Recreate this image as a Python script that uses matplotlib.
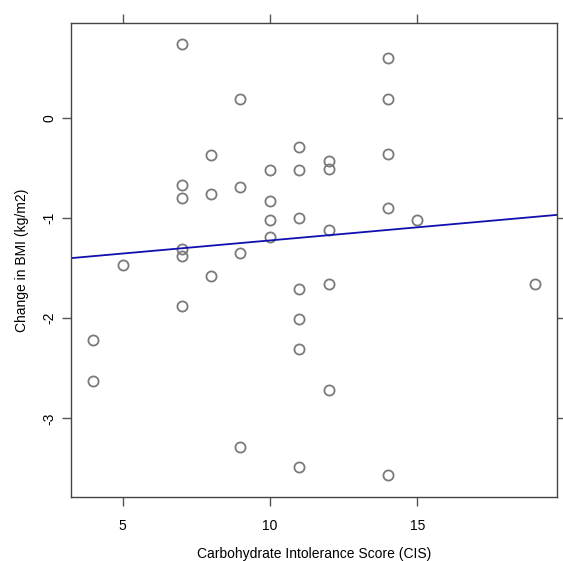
import matplotlib
matplotlib.use("Agg")
import matplotlib.pyplot as plt
import numpy as np

plt.rcParams['font.family'] = ['Liberation Sans', 'DejaVu Sans']

cis = [7, 14, 9, 14, 11, 8, 14, 12, 12, 10, 11, 7, 9, 7, 8, 10, 14, 10, 11, 15,
       12, 10, 7, 7, 9, 5, 8, 11, 12, 19, 7, 11, 4, 11, 4, 12, 9, 11, 14]
bmi_change = [0.74, 0.60, 0.19, 0.19, -0.29, -0.37, -0.36, -0.43, -0.51, -0.52,
              -0.52, -0.67, -0.69, -0.80, -0.76, -0.83, -0.90, -1.02, -1.00, -1.02,
              -1.12, -1.19, -1.31, -1.38, -1.35, -1.47, -1.58, -1.71, -1.66, -1.66,
              -1.88, -2.01, -2.22, -2.31, -2.63, -2.72, -3.29, -3.49, -3.57]

fit_intercept = -1.485
fit_slope = 0.0262

xticks = [5, 10, 15]
yticks = [-3, -2, -1, 0]

fig = plt.figure(figsize=(5.63, 5.61), dpi=100)
ax = fig.add_axes([0.1266, 0.1135, 0.8622, 0.845])

ax.plot(cis, bmi_change, linestyle='none', marker='o', markersize=7.3,
        markerfacecolor='none', markeredgecolor='#7a7a7a', markeredgewidth=1.3)

ax.set_xlim(3.26, 19.73)
ax.set_ylim(-3.789, 0.946)
ax.axline((0, fit_intercept), slope=fit_slope, color='#1010b0', linewidth=1.3)

ax.set_xticks(xticks)
ax.set_yticks(yticks)
ax.set_yticklabels([str(t) for t in yticks], rotation=90, va='center')
ax.tick_params(direction='out', length=6.5, width=1, color='#555555',
               labelsize=10, top=True, right=True, pad=9)
ax.tick_params(axis='y', pad=4)
for s in ax.spines.values():
    s.set_color('#444444')
    s.set_linewidth(1)

ax.set_xlabel('Carbohydrate Intolerance Score (CIS)', fontsize=10, labelpad=10)
ax.set_ylabel('Change in BMI (kg/m2)', fontsize=10, labelpad=10)

fig.savefig('out.png', dpi=100)
